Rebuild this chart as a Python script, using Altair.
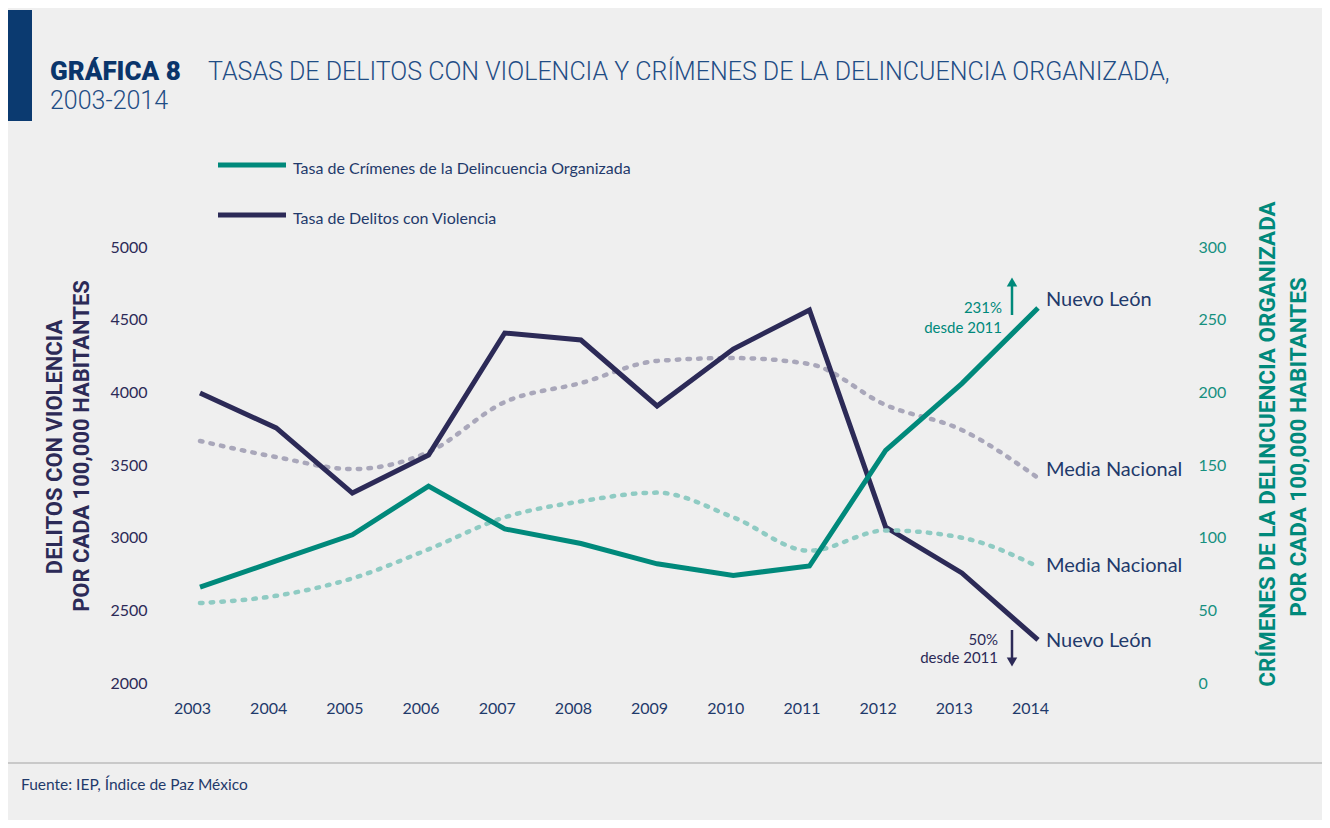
import altair as alt
import pandas as pd

# ---------------- data ----------------
years = [2003, 2004, 2005, 2006, 2007, 2008, 2009, 2010, 2011, 2012, 2013, 2014]
nl_violence = [3995, 3755, 3307, 3569, 4408, 4360, 3906, 4298, 4567, 3073, 2757, 2296]
nat_violence = [3665, 3555, 3472, 3589, 3933, 4064, 4216, 4236, 4195, 3913, 3741, 3411]
nl_crime = [66, 84, 102, 135.5, 106, 96, 82, 74, 80.5, 160, 206, 258]
nat_crime = [55, 60, 72, 92, 114, 125, 131, 114, 91, 105, 100, 80]

left_ticks = [2000, 2500, 3000, 3500, 4000, 4500, 5000]
right_ticks = [0, 50, 100, 150, 200, 250, 300]

title_bold = "GRÁFICA 8"
title_rest = "TASAS DE DELITOS CON VIOLENCIA Y CRÍMENES DE LA DELINCUENCIA ORGANIZADA,"
title_line2 = "2003-2014"
legend_labels = ["Tasa de Crímenes de la Delincuencia Organizada", "Tasa de Delitos con Violencia"]
left_title = ["DELITOS CON VIOLENCIA", "POR CADA 100,000 HABITANTES"]
right_title = ["CRÍMENES DE LA DELINCUENCIA ORGANIZADA", "POR CADA 100,000 HABITANTES"]
source = "Fuente: IEP, Índice de Paz México"

# ---------------- style ----------------
NAVY_LINE = "#2c2a57"
TEAL = "#00897b"
GREY_DOT = "#a9a7ba"
TEAL_DOT = "#8fcbc3"
TEXT_NAVY = "#1f3a6b"
BAR = "#0b3a70"
BG = "#efefef"
FONT = "Lato"
HFONT = "Roboto"

df_v = pd.DataFrame({"year": years, "nl": nl_violence, "nat": nat_violence})
df_c = pd.DataFrame({"year": years, "nl": nl_crime, "nat": nat_crime})
one = pd.DataFrame({"a": [0]})

xscale = alt.Scale(domain=[2002.4749, 2015.9952], nice=False, zero=False)
xaxis = alt.Axis(values=years, format="d", labelOffset=-8, labelPadding=17, ticks=False,
                 domain=False, grid=False, title=None, labelFont=FONT, labelFontSize=16,
                 labelColor=TEXT_NAVY)
xenc = alt.X("year:Q", scale=xscale, axis=xaxis)

lscale = alt.Scale(domain=[2000, 5000], nice=False, zero=False)
laxis = alt.Axis(orient="left", values=left_ticks, format="d", ticks=False, domain=False, grid=False,
                 title=None, labelFont=FONT, labelFontSize=16, labelColor=NAVY_LINE,
                 labelPadding=13)
rscale = alt.Scale(domain=[0, 300], nice=False, zero=False)
raxis = alt.Axis(orient="right", values=right_ticks, format="d", ticks=False, domain=False, grid=False,
                 title=None, labelFont=FONT, labelFontSize=16, labelColor="#16907f",
                 labelPadding=8)

DOT = dict(strokeWidth=4.5, strokeDash=[2.5, 8.2], strokeCap="round", interpolate="monotone")

# violence (left axis)
v_base = alt.Chart(df_v)
v_nat = v_base.mark_line(color=GREY_DOT, **DOT).encode(x=xenc, y=alt.Y("nat:Q", scale=lscale, axis=laxis))
v_nl = v_base.mark_line(color=NAVY_LINE, strokeWidth=5).encode(x=xenc, y=alt.Y("nl:Q", scale=lscale, axis=laxis))
end_v_nat = v_base.transform_filter("datum.year == 2014").mark_text(
    align="left", baseline="middle", dx=8, dy=-8, font=FONT, fontSize=20, color=TEXT_NAVY
).encode(x=xenc, y=alt.Y("nat:Q", scale=lscale, axis=laxis), text=alt.value("Media Nacional"))
end_v_nl = v_base.transform_filter("datum.year == 2014").mark_text(
    align="left", baseline="middle", dx=8, dy=1, font=FONT, fontSize=20, color=TEXT_NAVY
).encode(x=xenc, y=alt.Y("nl:Q", scale=lscale, axis=laxis), text=alt.value("Nuevo León"))
violence = alt.layer(v_nat, v_nl, end_v_nat, end_v_nl)

# organized crime (right axis)
c_base = alt.Chart(df_c)
c_nat = c_base.mark_line(color=TEAL_DOT, **DOT).encode(x=xenc, y=alt.Y("nat:Q", scale=rscale, axis=raxis))
c_nl = c_base.mark_line(color=TEAL, strokeWidth=5).encode(x=xenc, y=alt.Y("nl:Q", scale=rscale, axis=raxis))
end_c_nat = c_base.transform_filter("datum.year == 2014").mark_text(
    align="left", baseline="middle", dx=8, dy=-1, font=FONT, fontSize=20, color=TEXT_NAVY
).encode(x=xenc, y=alt.Y("nat:Q", scale=rscale, axis=raxis), text=alt.value("Media Nacional"))
end_c_nl = c_base.transform_filter("datum.year == 2014").mark_text(
    align="left", baseline="middle", dx=8, dy=-8, font=FONT, fontSize=20, color=TEXT_NAVY
).encode(x=xenc, y=alt.Y("nl:Q", scale=rscale, axis=raxis), text=alt.value("Nuevo León"))
crime = alt.layer(c_nat, c_nl, end_c_nat, end_c_nl)


def txt(s, x, y, **kw):
    props = dict(align="left", baseline="middle", font=FONT, fontSize=15, color=TEXT_NAVY)
    props.update(kw)
    return alt.Chart(one).mark_text(**props).encode(x=alt.value(x), y=alt.value(y), text=alt.value(s))


deco = [
    # header bar
    alt.Chart(one).mark_rect(color=BAR).encode(x=alt.value(-152), x2=alt.value(-128),
                                               y=alt.value(-237), y2=alt.value(-126)),
    txt(title_bold, -110, -175, font=HFONT, fontSize=26, fontWeight=900, color="#0a356b"),
    txt(title_rest, 48, -175, font=HFONT, fontSize=25, fontWeight=300, color="#1f4d85"),
    txt(title_line2, -110, -146, font=HFONT, fontSize=25, fontWeight=300, color="#1f4d85"),
    # legend
    alt.Chart(one).mark_rule(color=TEAL, strokeWidth=5).encode(x=alt.value(58), x2=alt.value(126), y=alt.value(-82)),
    txt(legend_labels[0], 133, -78, fontSize=16),
    alt.Chart(one).mark_rule(color=NAVY_LINE, strokeWidth=5).encode(x=alt.value(58), x2=alt.value(126), y=alt.value(-32)),
    txt(legend_labels[1], 133, -28, fontSize=16),
    # axis titles
    txt(left_title[0], -105, 200, align="center", angle=270, font=HFONT, fontSize=22, fontWeight="bold", color=NAVY_LINE),
    txt(left_title[1], -78, 199, align="center", angle=270, font=HFONT, fontSize=22, fontWeight="bold", color=NAVY_LINE),
    txt(right_title[0], 1108, 197, align="center", angle=270, font=HFONT, fontSize=22.5, fontWeight="bold", color=TEAL),
    txt(right_title[1], 1139, 200, align="center", angle=270, font=HFONT, fontSize=22.5, fontWeight="bold", color=TEAL),
    # change annotations
    txt("231%", 842, 61, align="right", color=TEAL),
    txt("desde 2011", 842, 81, align="right", color=TEAL),
    alt.Chart(one).mark_rule(color=TEAL, strokeWidth=2.5).encode(x=alt.value(852), y=alt.value(68), y2=alt.value(36)),
    alt.Chart(one).mark_point(shape="triangle-up", filled=True, size=110, color=TEAL, opacity=1).encode(
        x=alt.value(852), y=alt.value(35)),
    txt("50%", 838, 393, align="right", color=NAVY_LINE),
    txt("desde 2011", 838, 411, align="right", color=NAVY_LINE),
    alt.Chart(one).mark_rule(color=NAVY_LINE, strokeWidth=2.5).encode(x=alt.value(852), y=alt.value(383), y2=alt.value(414)),
    alt.Chart(one).mark_point(shape="triangle-down", filled=True, size=110, color=NAVY_LINE, opacity=1).encode(
        x=alt.value(852), y=alt.value(415)),
    # footer
    alt.Chart(one).mark_rule(color="#c9c9c9", strokeWidth=2).encode(x=alt.value(-152), x2=alt.value(1162), y=alt.value(516)),
    txt(source, -139, 538, fontSize=15.5),
]

chart = alt.layer(violence, crime, *deco).resolve_scale(y="independent").properties(
    width=1030,
    height=436,
    background=BG,
    padding={"left": 152, "top": 239, "right": 132, "bottom": 137},
    autosize=alt.AutoSizeParams(type="none"),
).configure_view(stroke=None)

chart.save("out.html", embed_options={"renderer": "svg", "actions": False})
